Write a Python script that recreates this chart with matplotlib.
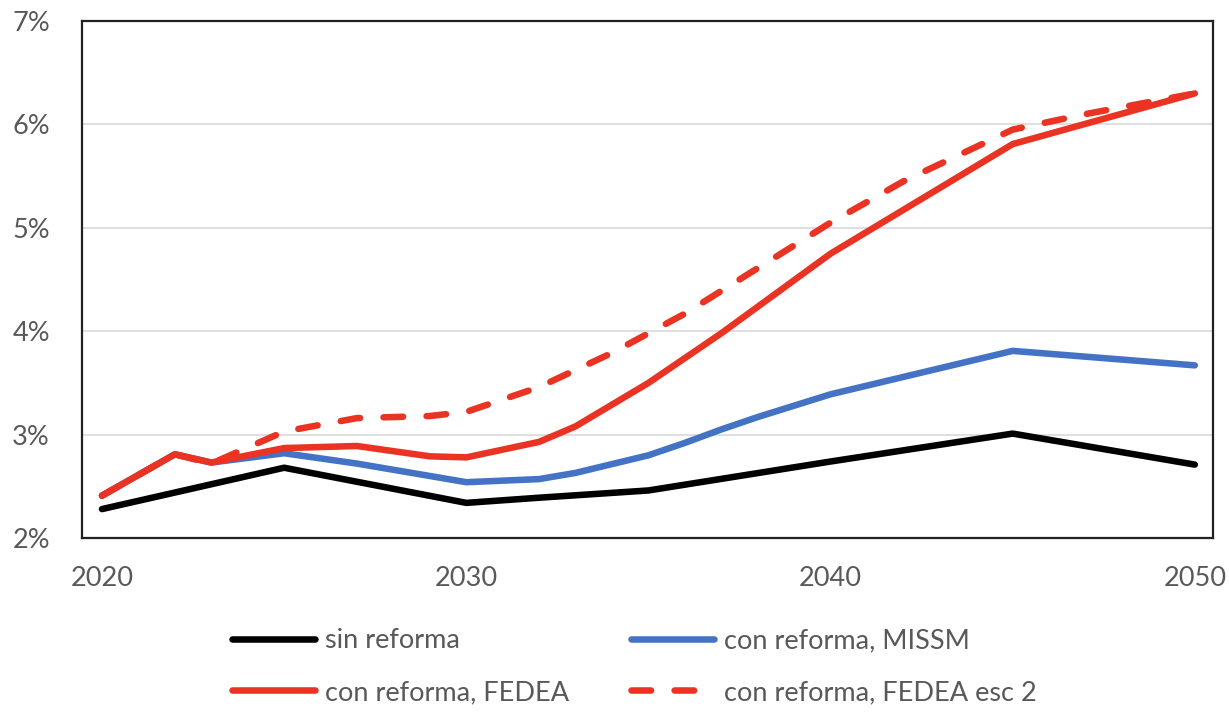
import matplotlib
matplotlib.use('Agg')
import matplotlib.pyplot as plt
from matplotlib.ticker import FuncFormatter

plt.rcParams['font.family'] = ['Lato', 'DejaVu Sans']

# --- data (% of GDP) ---
years_sin   = [2020, 2025, 2030, 2032, 2035, 2040, 2045, 2050]
sin_reforma = [2.28, 2.68, 2.34, 2.39, 2.46, 2.74, 3.01, 2.71]

years_missm = [2020, 2022, 2023, 2025, 2027, 2030, 2032, 2033, 2035, 2036,
               2037, 2038, 2040, 2045, 2050]
missm       = [2.41, 2.81, 2.73, 2.82, 2.72, 2.54, 2.57, 2.63, 2.80, 2.92,
               3.05, 3.17, 3.39, 3.81, 3.67]

years_fedea = [2020, 2022, 2023, 2025, 2027, 2029, 2030, 2032, 2033, 2035,
               2037, 2040, 2045, 2050]
fedea       = [2.41, 2.81, 2.73, 2.87, 2.89, 2.79, 2.78, 2.93, 3.08, 3.50,
               3.98, 4.75, 5.81, 6.30]

years_esc2  = [2020, 2022, 2023, 2025, 2027, 2029, 2030, 2032, 2034, 2036,
               2040, 2042, 2045, 2047, 2050]
fedea_esc2  = [2.41, 2.81, 2.72, 3.03, 3.16, 3.18, 3.22, 3.46, 3.79, 4.17,
               5.05, 5.45, 5.95, 6.10, 6.30]

LABELS = ['sin reforma', 'con reforma, MISSM',
          'con reforma, FEDEA', 'con reforma, FEDEA esc 2']
BLACK, BLUE, RED = '#000000', '#4472C4', '#EA3323'
GREY_TXT = '#595959'
LW = 4.7

fig = plt.figure(figsize=(12.29, 7.13), dpi=100)
ax = fig.add_axes([0.0667, 0.2454, 0.9203, 0.7251])

kw = dict(lw=LW, solid_joinstyle='round', solid_capstyle='round')
l1, = ax.plot(years_sin, sin_reforma, color=BLACK, **kw)
l2, = ax.plot(years_missm, missm, color=BLUE, **kw)
l3, = ax.plot(years_fedea, fedea, color=RED, **kw)
l4, = ax.plot(years_esc2, fedea_esc2, color=RED, lw=LW, ls=(0, (3.0, 3.6)),
              dash_capstyle='round', dash_joinstyle='round')

ax.set_xlim(2019.45, 2050.5)
ax.set_ylim(2, 7)
ax.set_xticks([2020, 2030, 2040, 2050])
ax.set_yticks([2, 3, 4, 5, 6, 7])
ax.yaxis.set_major_formatter(FuncFormatter(lambda v, p: f'{v:.0f}%'))
ax.tick_params(length=0, labelsize=19.5, labelcolor=GREY_TXT)
ax.tick_params(axis='y', pad=23)
ax.tick_params(axis='x', pad=20)
ax.grid(axis='y', color='#d9d9d9', lw=1.2)
ax.set_axisbelow(True)
for s in ax.spines.values():
    s.set_color('#222222')
    s.set_linewidth(1.6)

# legend fills column-wise, so order handles to read row by row
fig.legend([l1, l3, l2, l4], [LABELS[0], LABELS[2], LABELS[1], LABELS[3]],
           ncol=2, loc='center', bbox_to_anchor=(0.516, 0.065), frameon=False,
           fontsize=19.5, labelcolor=GREY_TXT, handlelength=3.05,
           handletextpad=0.37, columnspacing=2.3, labelspacing=0.98)

fig.savefig('out.png', dpi=100)
